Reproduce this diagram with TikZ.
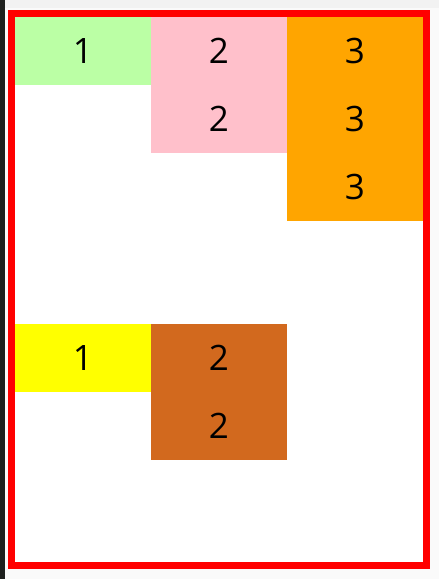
\documentclass[tikz,border=0pt]{standalone}
\usepackage{fontspec}
\setmainfont{Open Sans}
\begin{document}
\begin{tikzpicture}[x=1pt,y=-1pt,
  cell/.style={minimum width=136pt,minimum height=68pt,inner sep=0pt,outer sep=0pt,anchor=north west,font=\fontsize{35}{35}\selectfont,text=black},
  tall/.style={cell,minimum height=136pt},
  taller/.style={cell,minimum height=204pt},
  rowtxt/.style={font=\fontsize{35}{35}\selectfont,text=black,inner sep=0pt}]
\definecolor{lgreen}{HTML}{BBFFA5}
\definecolor{lpink}{HTML}{FFC0CB}
\definecolor{lorange}{HTML}{FFA500}
\definecolor{lyellow}{HTML}{FFFF00}
\definecolor{lchoc}{HTML}{D2691E}
\definecolor{winbg}{HTML}{FAFAFA}
\definecolor{bar}{HTML}{F2F2F2}
\definecolor{darkedge}{HTML}{1E201E}
\useasboundingbox (0,0) rectangle (439,579);
\fill[winbg] (0,0) rectangle (439,579);
\fill[bar] (0,0) rectangle (439,8);
\fill[darkedge] (0,0) rectangle (5,579);
\fill[white] (15,17) rectangle (423,562);
% red frame
\draw[red,line width=7pt] (11.5,13.5) rectangle (426.5,565.5);
% first group
\node[cell,fill=lgreen] (g1) at (15,17) {1};
\node[tall,fill=lpink] (p2) at (151,17) {};
\node[taller,fill=lorange] (o3) at (287,17) {};
\node[rowtxt] (p2a) at (219,51) {2};
\node[rowtxt] (p2b) at (219,119) {2};
\node[rowtxt] (o3a) at (355,51) {3};
\node[rowtxt] (o3b) at (355,119) {3};
\node[rowtxt] (o3c) at (355,187) {3};
% second group
\node[cell,fill=lyellow] (y1) at (15,324) {1};
\node[tall,fill=lchoc] (c2) at (151,324) {};
\node[rowtxt] (c2a) at (219,358) {2};
\node[rowtxt] (c2b) at (219,426) {2};
\end{tikzpicture}
\end{document}
